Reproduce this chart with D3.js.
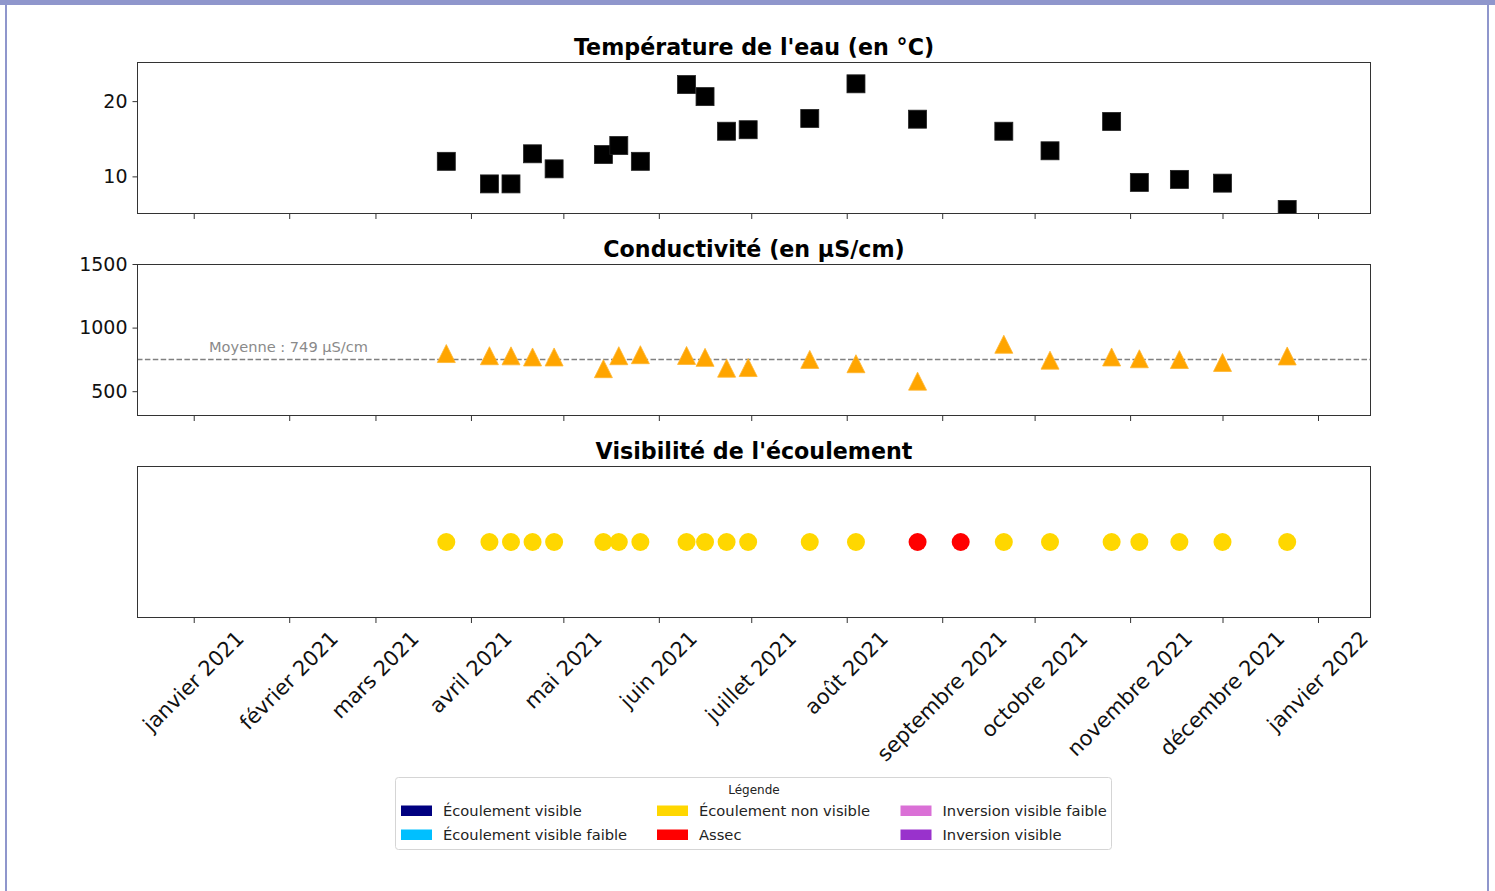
<!DOCTYPE html>
<html><head><meta charset="utf-8">
<script src="https://cdn.jsdelivr.net/npm/d3@7"></script>
<style>
body{margin:0;background:#fff}
svg{display:block}
text{font-family:"DejaVu Sans",sans-serif}
</style>
</head><body>
<svg id="c" width="1495" height="891"></svg>
<script>
// ---------------- DATA ----------------
const sampleDates = ["2021-03-24","2021-04-07","2021-04-14","2021-04-21","2021-04-28","2021-05-14","2021-05-19","2021-05-26","2021-06-10","2021-06-16","2021-06-23","2021-06-30","2021-07-20","2021-08-04","2021-08-24","2021-09-21","2021-10-06","2021-10-26","2021-11-04","2021-11-17","2021-12-01","2021-12-22"];
const temperature = [12.0, 9.0, 9.0, 13.0, 11.0, 12.9, 14.1, 12.0, 22.2, 20.6, 16.0, 16.2, 17.7, 22.3, 17.6, 16.0, 13.4, 17.3, 9.2, 9.6, 9.1, 5.6];
const conductivity = [796, 779, 778, 769, 769, 677, 779, 787, 781, 766, 681, 686, 750, 716, 579, 869, 744, 769, 755, 749, 726, 777];
const conductivityMean = 749;
const visibilityDates = ["2021-03-24","2021-04-07","2021-04-14","2021-04-21","2021-04-28","2021-05-14","2021-05-19","2021-05-26","2021-06-10","2021-06-16","2021-06-23","2021-06-30","2021-07-20","2021-08-04","2021-08-24","2021-09-07","2021-09-21","2021-10-06","2021-10-26","2021-11-04","2021-11-17","2021-12-01","2021-12-22"];
const visibilityStates = ["Écoulement non visible","Écoulement non visible","Écoulement non visible","Écoulement non visible","Écoulement non visible","Écoulement non visible","Écoulement non visible","Écoulement non visible","Écoulement non visible","Écoulement non visible","Écoulement non visible","Écoulement non visible","Écoulement non visible","Écoulement non visible","Assec","Assec","Écoulement non visible","Écoulement non visible","Écoulement non visible","Écoulement non visible","Écoulement non visible","Écoulement non visible","Écoulement non visible"];
const monthTicks = ["2021-01-01","2021-02-01","2021-03-01","2021-04-01","2021-05-01","2021-06-01","2021-07-01","2021-08-01","2021-09-01","2021-10-01","2021-11-01","2021-12-01","2022-01-01"];
const monthLabels = ["janvier 2021","février 2021","mars 2021","avril 2021","mai 2021","juin 2021","juillet 2021","août 2021","septembre 2021","octobre 2021","novembre 2021","décembre 2021","janvier 2022"];
const xDomain = ["2020-12-13T14:00","2022-01-18T05:00"];
const tempDomain = [5.0, 25.2];
const tempTicks = [10, 20];
const condDomain = [305, 1500];
const condTicks = [500, 1000, 1500];
const panelTitles = ["Température de l'eau (en °C)", "Conductivité (en µS/cm)", "Visibilité de l'écoulement"];
const legendTitle = "Légende";
const legendLabels = ["Écoulement visible","Écoulement visible faible","Écoulement non visible","Assec","Inversion visible faible","Inversion visible"];
const legendColors = ["#000080","#00BFFF","#FFD700","#FF0000","#DA70D6","#9932CC"];

// ---------------- DRAW ----------------
const svg = d3.select("#c");
const parseD = d3.utcParse("%Y-%m-%d");
const parseDT = d3.utcParse("%Y-%m-%dT%H:%M");
const L = 137, R = 1371;
const x = d3.scaleUtc().domain(xDomain.map(parseDT)).range([L, R]);
const colorOf = d3.scaleOrdinal().domain(legendLabels).range(legendColors);
const tickDates = monthTicks.map(parseD);

// page frame
const frameCol = "#8f96cc";
svg.append("rect").attr("x",0).attr("y",0).attr("width",1495).attr("height",5).attr("fill",frameCol);
svg.append("rect").attr("x",5).attr("y",0).attr("width",2).attr("height",891).attr("fill",frameCol);
svg.append("rect").attr("x",1487).attr("y",0).attr("width",2).attr("height",891).attr("fill",frameCol);

const panels = [{top:62,bottom:214},{top:264,bottom:416},{top:466,bottom:618}];

panels.forEach((p,i)=>{
  const id = "clip"+i;
  svg.append("clipPath").attr("id",id).append("rect")
    .attr("x",L).attr("y",p.top).attr("width",R-L).attr("height",p.bottom-p.top);
  p.plot = svg.append("g").attr("clip-path","url(#"+id+")");
  svg.append("text").attr("x",(L+R)/2).attr("y",p.top-7.5)
    .attr("text-anchor","middle").attr("font-size","22.2px").attr("font-weight","bold")
    .attr("fill","#000").text(panelTitles[i]);
  const ax = d3.axisBottom(x).tickValues(tickDates).tickSize(5).tickFormat("");
  const ga = svg.append("g").attr("transform",`translate(0,${p.bottom})`).call(ax);
  ga.select(".domain").remove();
  ga.selectAll("line").attr("stroke","#333").attr("stroke-width",1);
});

function yAxis(y, ticks){
  const ay = d3.axisLeft(y).tickValues(ticks).tickSize(4.5).tickPadding(5).tickFormat(d3.format("d"));
  const g = svg.append("g").attr("transform",`translate(${L},0)`).call(ay);
  g.select(".domain").remove();
  g.selectAll("line").attr("stroke","#333");
  g.selectAll("text").attr("font-size","19px").attr("fill","#111").attr("font-family","DejaVu Sans");
}

// Panel 1 : temperature
{
  const p = panels[0];
  const y = d3.scaleLinear().domain(tempDomain).range([p.bottom,p.top]);
  yAxis(y, tempTicks);
  const s = 18;
  p.plot.selectAll("rect.m").data(sampleDates.map((d,k)=>({d:parseD(d),v:temperature[k]})))
    .join("rect").attr("class","m")
    .attr("x",d=>x(d.d)-s/2).attr("y",d=>y(d.v)-s/2)
    .attr("width",s).attr("height",s).attr("fill","#000").attr("stroke","#222").attr("stroke-width",0.8);
}

// Panel 2 : conductivity
{
  const p = panels[1];
  const y = d3.scaleLinear().domain(condDomain).range([p.bottom,p.top]);
  yAxis(y, condTicks);
  p.plot.append("line").attr("x1",L).attr("x2",R)
    .attr("y1",y(conductivityMean)).attr("y2",y(conductivityMean))
    .attr("stroke","#808080").attr("stroke-width",1.5).attr("stroke-dasharray","5.5,2.4");
  p.plot.append("text").attr("x",209).attr("y",y(conductivityMean)-7.5)
    .attr("font-size","14.6px").attr("fill","#8a8a8a").text(`Moyenne : ${conductivityMean} µS/cm`);
  const h = 9;
  p.plot.selectAll("path.m").data(sampleDates.map((d,k)=>({d:parseD(d),v:conductivity[k]})))
    .join("path").attr("class","m")
    .attr("d",`M0,${-h}L${-h},${h}L${h},${h}Z`)
    .attr("transform",d=>`translate(${x(d.d)},${y(d.v)})`)
    .attr("fill","#FFA500").attr("stroke","#FFB52E").attr("stroke-width",0.8);
}

// Panel 3 : visibility
{
  const p = panels[2];
  const cy = (p.top+p.bottom)/2;
  p.plot.selectAll("circle").data(visibilityDates.map((d,k)=>({d:parseD(d),s:visibilityStates[k]})))
    .join("circle").attr("cx",d=>x(d.d)).attr("cy",cy).attr("r",9)
    .attr("fill",d=>colorOf(d.s));
  const fs = 21;
  const lg = svg.append("g");
  tickDates.forEach((d,k)=>{
    const t = lg.append("text").attr("font-size",fs+"px").attr("fill","#111")
      .attr("text-anchor","middle").attr("dy","0.32em").text(monthLabels[k]);
    const w = t.node().getComputedTextLength();
    const cyL = 628 + (w + 0.95*fs)*0.35355;
    t.attr("transform",`translate(${x(d)},${cyL}) rotate(-45)`);
  });
}

// axes frames
panels.forEach(p=>{
  svg.append("rect").attr("x",L+0.5).attr("y",p.top+0.5).attr("width",R-L-1).attr("height",p.bottom-p.top-1)
    .attr("fill","none").attr("stroke","#333").attr("stroke-width",1);
});

// legend
{
  const g = svg.append("g");
  g.append("rect").attr("x",395.5).attr("y",777.5).attr("width",716).attr("height",72).attr("rx",3)
    .attr("fill","#fff").attr("stroke","#d5d5d5").attr("stroke-width",1);
  g.append("text").attr("x",754).attr("y",794.2).attr("text-anchor","middle")
    .attr("font-size","12px").attr("fill","#222").text(legendTitle);
  const colX = [401, 657, 900.5];
  const rowY = [805.5, 829.5];
  legendLabels.forEach((lab,k)=>{
    const c = Math.floor(k/2), r = k%2;
    g.append("rect").attr("x",colX[c]).attr("y",rowY[r]).attr("width",31).attr("height",10.5)
      .attr("fill",legendColors[k]);
    g.append("text").attr("x",colX[c]+42).attr("y",rowY[r]+10.5).attr("font-size","14.7px")
      .attr("fill","#222").text(lab);
  });
}
</script>
</body></html>
